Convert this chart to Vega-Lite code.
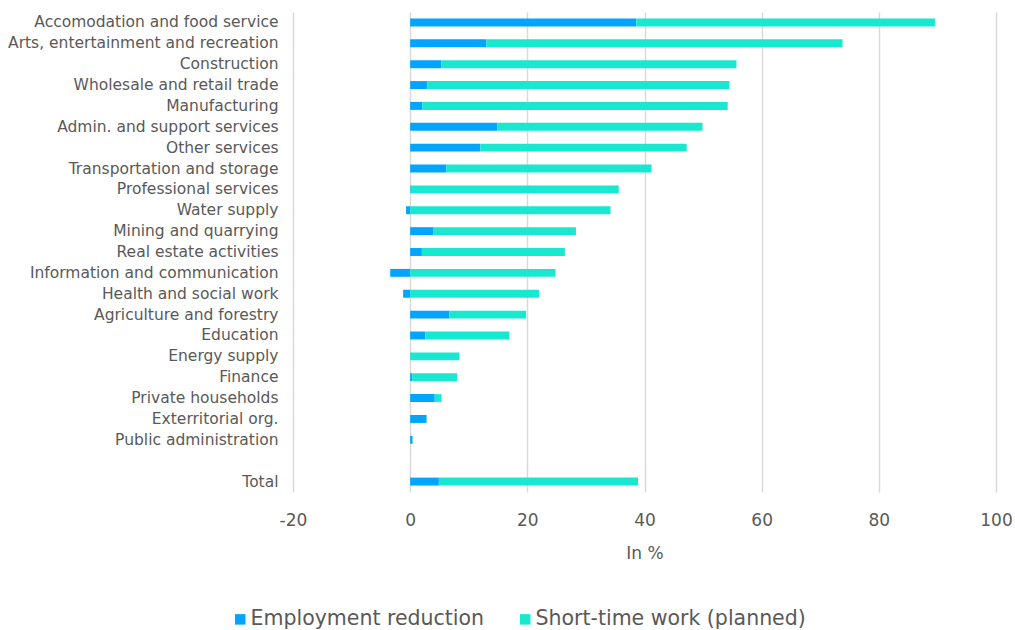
{
  "$schema": "https://vega.github.io/schema/vega-lite/v6.json",
  "width": 703,
  "height": 480,
  "autosize": {"type": "none"},
  "padding": {"left": 293, "top": 12, "right": 19, "bottom": 138},
  "background": "white",
  "config": {
    "font": "DejaVu Sans",
    "view": {"stroke": null}
  },
  "data": {
    "values": [
      {"sector": "Accomodation and food service", "type": "Employment reduction", "value": 38.6},
      {"sector": "Accomodation and food service", "type": "Short-time work (planned)", "value": 51.0},
      {"sector": "Arts, entertainment and recreation", "type": "Employment reduction", "value": 13.0},
      {"sector": "Arts, entertainment and recreation", "type": "Short-time work (planned)", "value": 60.8},
      {"sector": "Construction", "type": "Employment reduction", "value": 5.3},
      {"sector": "Construction", "type": "Short-time work (planned)", "value": 50.4},
      {"sector": "Wholesale and retail trade", "type": "Employment reduction", "value": 2.9},
      {"sector": "Wholesale and retail trade", "type": "Short-time work (planned)", "value": 51.6},
      {"sector": "Manufacturing", "type": "Employment reduction", "value": 2.1},
      {"sector": "Manufacturing", "type": "Short-time work (planned)", "value": 52.1},
      {"sector": "Admin. and support services", "type": "Employment reduction", "value": 14.9},
      {"sector": "Admin. and support services", "type": "Short-time work (planned)", "value": 35.0},
      {"sector": "Other services", "type": "Employment reduction", "value": 12.0},
      {"sector": "Other services", "type": "Short-time work (planned)", "value": 35.2},
      {"sector": "Transportation and storage", "type": "Employment reduction", "value": 6.2},
      {"sector": "Transportation and storage", "type": "Short-time work (planned)", "value": 35.0},
      {"sector": "Professional services", "type": "Employment reduction", "value": 0.1},
      {"sector": "Professional services", "type": "Short-time work (planned)", "value": 35.5},
      {"sector": "Water supply", "type": "Employment reduction", "value": -0.7},
      {"sector": "Water supply", "type": "Short-time work (planned)", "value": 34.2},
      {"sector": "Mining and quarrying", "type": "Employment reduction", "value": 4.0},
      {"sector": "Mining and quarrying", "type": "Short-time work (planned)", "value": 24.3},
      {"sector": "Real estate activities", "type": "Employment reduction", "value": 2.0},
      {"sector": "Real estate activities", "type": "Short-time work (planned)", "value": 24.4},
      {"sector": "Information and communication", "type": "Employment reduction", "value": -3.4},
      {"sector": "Information and communication", "type": "Short-time work (planned)", "value": 24.8},
      {"sector": "Health and social work", "type": "Employment reduction", "value": -1.2},
      {"sector": "Health and social work", "type": "Short-time work (planned)", "value": 22.0},
      {"sector": "Agriculture and forestry", "type": "Employment reduction", "value": 6.7},
      {"sector": "Agriculture and forestry", "type": "Short-time work (planned)", "value": 13.1},
      {"sector": "Education", "type": "Employment reduction", "value": 2.6},
      {"sector": "Education", "type": "Short-time work (planned)", "value": 14.3},
      {"sector": "Energy supply", "type": "Employment reduction", "value": 0.0},
      {"sector": "Energy supply", "type": "Short-time work (planned)", "value": 8.4},
      {"sector": "Finance", "type": "Employment reduction", "value": 0.35},
      {"sector": "Finance", "type": "Short-time work (planned)", "value": 7.65},
      {"sector": "Private households", "type": "Employment reduction", "value": 4.2},
      {"sector": "Private households", "type": "Short-time work (planned)", "value": 1.15},
      {"sector": "Exterritorial org.", "type": "Employment reduction", "value": 2.8},
      {"sector": "Exterritorial org.", "type": "Short-time work (planned)", "value": 0.0},
      {"sector": "Public administration", "type": "Employment reduction", "value": 0.4},
      {"sector": "Public administration", "type": "Short-time work (planned)", "value": 0.0},
      {"sector": "Total", "type": "Employment reduction", "value": 4.9},
      {"sector": "Total", "type": "Short-time work (planned)", "value": 34.0}
    ]
  },
  "mark": {"type": "bar"},
  "encoding": {
    "y": {
      "field": "sector",
      "type": "nominal",
      "scale": {
        "domain": ["Accomodation and food service", "Arts, entertainment and recreation", "Construction", "Wholesale and retail trade", "Manufacturing", "Admin. and support services", "Other services", "Transportation and storage", "Professional services", "Water supply", "Mining and quarrying", "Real estate activities", "Information and communication", "Health and social work", "Agriculture and forestry", "Education", "Energy supply", "Finance", "Private households", "Exterritorial org.", "Public administration", " ", "Total"],
        "paddingInner": 0.62,
        "paddingOuter": 0.31
      },
      "axis": {
        "title": null,
        "domain": false,
        "ticks": false,
        "grid": false,
        "labelFontSize": 15.5,
        "labelColor": "#595959",
        "labelPadding": 15,
        "labelLimit": 400
      }
    },
    "x": {
      "field": "value",
      "type": "quantitative",
      "stack": "zero",
      "scale": {"domain": [-20, 100], "nice": false},
      "axis": {
        "title": "In %",
        "titleFontSize": 17,
        "titleFontWeight": "normal",
        "titleColor": "#595959",
        "titlePadding": 17,
        "values": [-20, 0, 20, 40, 60, 80, 100],
        "labelExpr": "datum.value + ''",
        "labelFlush": false,
        "domain": false,
        "ticks": false,
        "grid": true,
        "gridColor": "#d9d9d9",
        "gridWidth": 1.5,
        "labelFontSize": 17,
        "labelColor": "#595959",
        "labelPadding": 20
      }
    },
    "color": {
      "field": "type",
      "type": "nominal",
      "scale": {
        "domain": ["Employment reduction", "Short-time work (planned)"],
        "range": ["#00A5FF", "#18E8D0"]
      },
      "legend": {
        "title": null,
        "orient": "none",
        "legendX": -63,
        "legendY": 597,
        "direction": "horizontal",
        "symbolType": "square",
        "symbolSize": 110,
        "symbolStrokeWidth": 0,
        "labelFontSize": 20.5,
        "labelColor": "#595959",
        "labelOffset": 0,
        "columnPadding": 30,
        "labelLimit": 400
      }
    },
    "order": {"field": "type", "sort": "ascending"}
  }
}
